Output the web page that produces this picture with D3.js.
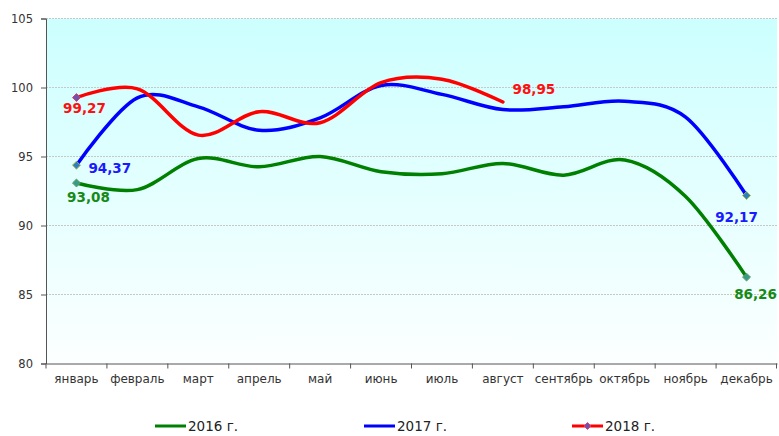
<!DOCTYPE html>
<html><head><meta charset="utf-8">
<script src="https://cdn.jsdelivr.net/npm/d3@7/dist/d3.min.js"></script>
<style>
html,body{margin:0;padding:0;background:#fff;}
svg{display:block;font-family:"DejaVu Sans",Verdana,sans-serif;}
</style>
</head><body>
<svg id="c" width="779" height="436"></svg>
<script>
const months = ["январь","февраль","март","апрель","май","июнь","июль","август","сентябрь","октябрь","ноябрь","декабрь"];
const yTicks = [80,85,90,95,100,105];
const seriesNames = ["2016 г.","2017 г.","2018 г."];
const values2016 = [93.08,92.6,94.85,94.25,95.0,93.9,93.75,94.5,93.65,94.75,92.1,86.26];
const values2017 = [94.37,99.25,98.6,96.9,97.8,100.15,99.5,98.4,98.6,99.0,97.85,92.17];
const values2018 = [99.27,99.9,96.55,98.25,97.45,100.35,100.6,98.95];
const colors = ["#008000","#0000ff","#ff0000"];
const labelColors = ["#168a16","#1a1aff","#ff1010"];

const W=779,H=436, m={l:46,r:2,t:18.5,b:72.5};
const svg=d3.select("#c");
const x=d3.scaleBand().domain(months).range([m.l,W-m.r]);
const y=d3.scaleLinear().domain([80,105]).range([H-m.b,m.t]);
const cx=d=>x(d)+x.bandwidth()/2;

const defs=svg.append("defs");
const g=defs.append("linearGradient").attr("id","bg").attr("x1",0).attr("y1",0).attr("x2",0).attr("y2",1);
g.append("stop").attr("offset","0%").attr("stop-color","#ccffff");
g.append("stop").attr("offset","100%").attr("stop-color","#fcffff");
svg.append("rect").attr("x",m.l).attr("y",m.t).attr("width",W-m.r-m.l).attr("height",H-m.b-m.t).attr("fill","url(#bg)");

// grid
svg.append("g").selectAll("line").data(yTicks.filter(t=>t>80)).join("line")
 .attr("x1",m.l).attr("x2",W-m.r).attr("y1",d=>y(d)).attr("y2",d=>y(d))
 .attr("stroke","#c8c8c8").attr("stroke-width",1).attr("stroke-dasharray","2,1");

// y axis
const ya=svg.append("g").attr("transform",`translate(${m.l},0)`)
 .call(d3.axisLeft(y).tickValues(yTicks).tickSize(5).tickPadding(8).tickFormat(d3.format("d")));
ya.select(".domain").attr("stroke","#555");
ya.selectAll(".tick line").attr("stroke","#555");
ya.selectAll("text").attr("font-size","11.5px").attr("fill","#333").attr("font-family","DejaVu Sans");

// x axis
const xa=svg.append("g").attr("transform",`translate(0,${H-m.b})`)
 .call(d3.axisBottom(x).tickSize(0).tickPadding(11));
xa.select(".domain").attr("stroke","#555");
xa.selectAll("text").attr("font-size","12px").attr("fill","#333").attr("font-family","DejaVu Sans");
// band-edge ticks
const edges=months.map(d=>x(d)).concat([W-m.r-0.5]);
xa.selectAll(".edge").data(edges).join("line").attr("class","edge")
 .attr("x1",d=>d).attr("x2",d=>d).attr("y1",0).attr("y2",5).attr("stroke","#555");

const series=[values2016,values2017,values2018];
const line=d3.line().x((d,i)=>cx(months[i])).y(d=>y(d)).curve(d3.curveCatmullRom.alpha(0));
const markerFill=["#3a9a8a","#2f7fc0","#7050b0"];
const markerStroke=["#60a060","#a8b840","#e04060"];

series.forEach((vals,si)=>{
  svg.append("path").datum(vals).attr("d",line).attr("fill","none")
   .attr("stroke",colors[si]).attr("stroke-width",3.5).attr("stroke-linecap","round");
});
// markers: first and December points only
series.forEach((vals,si)=>{
  const ends=vals.length===12?[0,11]:[0];
  svg.append("g").selectAll("path").data(ends).join("path")
   .attr("d",d3.symbol(d3.symbolDiamond2,40))
   .attr("transform",i=>`translate(${cx(months[i])},${y(vals[i])})`)
   .attr("fill",markerFill[si]).attr("stroke",markerStroke[si]).attr("stroke-width",1);
});

// data labels: [series, index, dx, dy, anchor]
const labels=[[2,0,8,15.5,"middle"],[1,0,12,8,"start"],[0,0,12,19,"middle"],[1,11,-10,26,"middle"],[0,11,9,22,"middle"],[2,7,31,-8,"middle"]];
const fmt=v=>v.toFixed(2).replace(".",",");
svg.append("g").selectAll("text").data(labels).join("text")
 .attr("x",d=>cx(months[d[1]])+d[2]).attr("y",d=>y(series[d[0]][d[1]])+d[3])
 .attr("text-anchor",d=>d[4]).attr("font-weight","bold").attr("font-size","13.5px")
 .attr("fill",d=>labelColors[d[0]]).text(d=>fmt(series[d[0]][d[1]]));

// legend
const legX=[155,364,572];
const lg=svg.append("g");
seriesNames.forEach((n,i)=>{
  lg.append("line").attr("x1",legX[i]).attr("x2",legX[i]+31).attr("y1",426).attr("y2",426)
   .attr("stroke",colors[i]).attr("stroke-width",3);
  if(i===2){
    lg.append("path").attr("d",d3.symbol(d3.symbolDiamond2,30))
     .attr("transform",`translate(${legX[i]+15.5},426)`).attr("fill",markerFill[i]).attr("stroke",markerStroke[i]);
  }
  lg.append("text").attr("x",legX[i]+33).attr("y",431).attr("font-size","13.5px").attr("fill","#222").text(n);
});
</script>
</body></html>
